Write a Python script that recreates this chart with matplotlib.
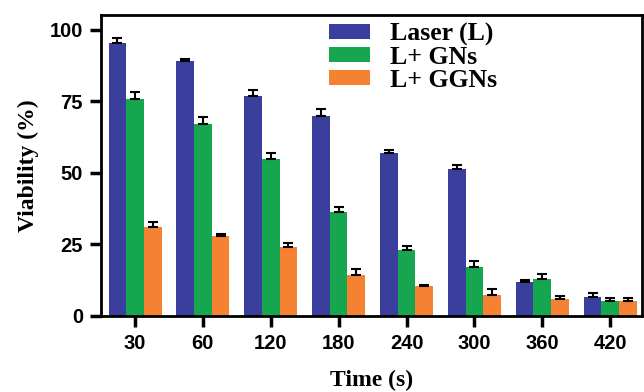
import matplotlib.pyplot as plt
import numpy as np

# data
times = ['30', '60', '120', '180', '240', '300', '360', '420']
laser = [95.5, 89.0, 77.0, 69.8, 56.8, 51.5, 12.0, 6.6]
laser_err = [1.5, 0.9, 1.8, 2.5, 1.2, 1.4, 0.7, 1.4]
gns = [75.8, 67.2, 55.0, 36.2, 23.2, 17.1, 12.8, 5.1]
gns_err = [2.3, 2.3, 2.0, 1.7, 1.1, 2.2, 1.7, 1.2]
ggns = [31.2, 28.0, 24.1, 14.2, 10.3, 7.2, 6.0, 5.1]
ggns_err = [1.6, 0.8, 1.3, 2.2, 0.6, 2.2, 1.0, 1.0]

labels = ['Laser (L)', 'L+ GNs', 'L+ GGNs']
colors = ['#3a3f9e', '#17a650', '#f58232']

fig = plt.figure(figsize=(6.44, 3.92), dpi=100)
ax = fig.add_axes([0.157, 0.194, 0.84, 0.768])

x = np.arange(len(times))
w = 0.26
series = [(laser, laser_err), (gns, gns_err), (ggns, ggns_err)]
for i, (vals, errs) in enumerate(series):
    pos = x + (i - 1) * w
    ax.bar(pos, vals, w, color=colors[i], label=labels[i], zorder=2)
    ax.errorbar(pos, vals, yerr=[np.zeros(len(errs)), errs], fmt='none',
                ecolor='black', elinewidth=1.5, capsize=3.5, capthick=1.5, zorder=3)

ax.set_xlim(-0.5, 7.47)
ax.set_ylim(0, 105.2)
ax.set_yticks([0, 25, 50, 75, 100])
ax.set_xticks(x)
ax.set_xticklabels(times)

for s in ax.spines.values():
    s.set_linewidth(2)
ax.tick_params(axis='both', direction='out', length=8, width=2.5, labelsize=14.5, pad=5)
for lab in ax.get_xticklabels() + ax.get_yticklabels():
    lab.set_fontfamily('Liberation Sans')
    lab.set_fontweight('bold')

ax.set_xlabel('Time (s)', fontfamily='Liberation Serif', fontweight='bold', fontsize=17, labelpad=12)
ax.set_ylabel('Viability (%)', fontfamily='Liberation Serif', fontweight='bold', fontsize=17, labelpad=8)

leg = ax.legend(loc='upper left', bbox_to_anchor=(0.378, 1.052), frameon=False,
                prop={'family': 'Liberation Serif', 'weight': 'bold', 'size': 18.5},
                handlelength=1.6, handleheight=0.55, labelspacing=0.0, handletextpad=0.8)

fig.savefig('out.png', dpi=100)
